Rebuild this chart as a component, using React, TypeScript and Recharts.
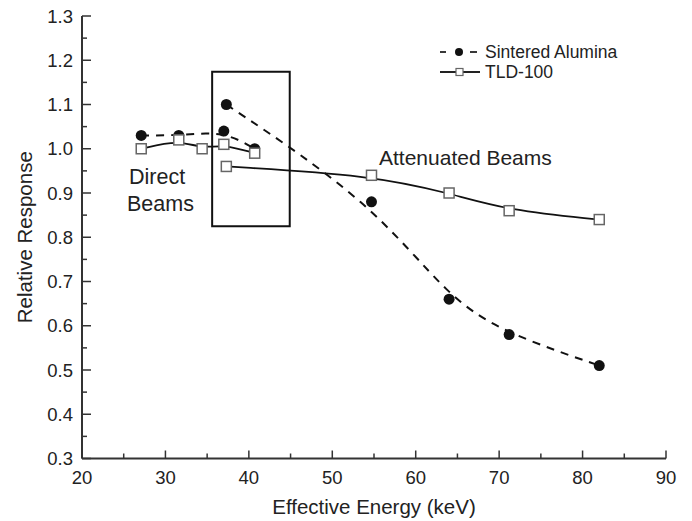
import { LineChart, Line, XAxis, YAxis, ReferenceArea } from 'recharts';

// Sintered Alumina (dashed, filled circles)
const saDirectEnergy = [27.1, 31.6, 37.0, 40.7];
const saDirectResp = [1.03, 1.03, 1.04, 1.0];
const saAttenEnergy = [37.3, 54.7, 64.0, 71.2, 82.0];
const saAttenResp = [1.1, 0.88, 0.66, 0.58, 0.51];

// TLD-100 (solid, open squares)
const tldDirectEnergy = [27.1, 31.6, 34.4, 37.0, 40.7];
const tldDirectResp = [1.0, 1.02, 1.0, 1.01, 0.99];
const tldAttenEnergy = [37.3, 54.7, 64.0, 71.2, 82.0];
const tldAttenResp = [0.96, 0.94, 0.9, 0.86, 0.84];

const xTicks = [20, 25, 30, 35, 40, 45, 50, 55, 60, 65, 70, 75, 80, 85, 90];
const yTicks = [0.3, 0.35, 0.4, 0.45, 0.5, 0.55, 0.6, 0.65, 0.7, 0.75, 0.8, 0.85, 0.9, 0.95, 1.0, 1.05, 1.1, 1.15, 1.2, 1.25, 1.3];

const toRows = (xs: number[], ys: number[]) => xs.map((e, i) => ({ e, r: ys[i] }));

const saDirect = toRows(saDirectEnergy, saDirectResp);
const saAtten = toRows(saAttenEnergy, saAttenResp);
const tldDirect = toRows(tldDirectEnergy, tldDirectResp);
const tldAtten = toRows(tldAttenEnergy, tldAttenResp);

const FONT = '"Liberation Sans", Arial, sans-serif';
const INK = '#222';
const AXIS = '#333';

const isMajorX = (v: number) => v % 10 === 0;
const isMajorY = (v: number) => Math.round(v * 100) % 10 === 0;

const BottomTick = ({ x, y, payload }: any) => {
    const major = isMajorX(payload.value);
    return (
        <g>
            <line x1={x} x2={x} y1={y} y2={y - (major ? 8 : 5)} stroke={AXIS} strokeWidth={1.5} />
            {major && (
                <text x={x} y={y + 25} textAnchor="middle" fontSize={18.5} fill={INK} fontFamily={FONT}>
                    {payload.value}
                </text>
            )}
        </g>
    );
};

const TopTick = ({ x, y, payload }: any) => {
    const major = isMajorX(payload.value);
    return <line x1={x} x2={x} y1={y} y2={y + (major ? 8 : 5)} stroke={AXIS} strokeWidth={1.5} />;
};

const LeftTick = ({ x, y, payload }: any) => {
    const major = isMajorY(payload.value);
    return (
        <g>
            <line x1={x} x2={x + (major ? 9 : 5)} y1={y} y2={y} stroke={AXIS} strokeWidth={1.5} />
            {major && (
                <text x={x - 9} y={y + 6.5} textAnchor="end" fontSize={18.5} fill={INK} fontFamily={FONT}>
                    {payload.value.toFixed(1)}
                </text>
            )}
        </g>
    );
};

const RightTick = ({ x, y, payload }: any) => {
    const major = isMajorY(payload.value);
    return <line x1={x} x2={x - (major ? 9 : 5)} y1={y} y2={y} stroke={AXIS} strokeWidth={1.5} />;
};

const SquareDot = ({ cx, cy }: any) => (
    <rect x={cx - 5} y={cy - 5} width={10} height={10} fill="#fff" stroke="#666" strokeWidth={1.5} />
);

const CircleDot = ({ cx, cy }: any) => <circle cx={cx} cy={cy} r={5.5} fill="#111" />;

const LegendBox = () => (
    <div
        style={{
            position: 'absolute',
            left: 436,
            top: 42,
            fontFamily: FONT,
            fontSize: 17.5,
            color: INK,
            lineHeight: '20px',
        }}
    >
        <div style={{ display: 'flex', alignItems: 'center' }}>
            <svg width={44} height={20}>
                <line x1={4} x2={10} y1={10} y2={10} stroke={INK} strokeWidth={1.8} />
                <circle cx={23} cy={10} r={4} fill="#111" />
                <line x1={34} x2={41} y1={10} y2={10} stroke={INK} strokeWidth={1.8} />
            </svg>
            <span style={{ marginLeft: 5 }}>Sintered Alumina</span>
        </div>
        <div style={{ display: 'flex', alignItems: 'center' }}>
            <svg width={44} height={20}>
                <line x1={4} x2={44} y1={10} y2={10} stroke={INK} strokeWidth={1.8} />
                <rect x={20} y={6.5} width={7} height={7} fill="#fff" stroke="#666" strokeWidth={1.2} />
            </svg>
            <span style={{ marginLeft: 5 }}>TLD-100</span>
        </div>
    </div>
);

export default function App() {
    return (
        <div style={{ position: 'absolute', left: 0, top: 0, width: 692, height: 521, background: '#fff' }}>
            <LineChart width={692} height={521} margin={{ top: 16, right: 26, bottom: 0, left: 0 }}>
                <XAxis
                    xAxisId="bottom"
                    dataKey="e"
                    type="number"
                    domain={[20, 90]}
                    ticks={xTicks}
                    interval={0}
                    height={62.5}
                    tickSize={0}
                    tickMargin={0}
                    tickLine={false}
                    tick={<BottomTick />}
                    axisLine={{ stroke: AXIS, strokeWidth: 2 }}
                />
                <XAxis
                    xAxisId="top"
                    orientation="top"
                    dataKey="e"
                    type="number"
                    domain={[20, 90]}
                    ticks={xTicks}
                    interval={0}
                    height={0}
                    tickSize={0}
                    tickMargin={0}
                    tickLine={false}
                    tick={<TopTick />}
                    axisLine={{ stroke: AXIS, strokeWidth: 2 }}
                />
                <YAxis
                    yAxisId="left"
                    type="number"
                    domain={[0.3, 1.3]}
                    ticks={yTicks}
                    interval={0}
                    width={82}
                    tickSize={0}
                    tickMargin={0}
                    tickLine={false}
                    tick={<LeftTick />}
                    axisLine={{ stroke: AXIS, strokeWidth: 2 }}
                    label={{
                        value: 'Relative Response',
                        angle: -90,
                        position: 'insideLeft',
                        offset: 0,
                        dx: 25,
                        style: { fontFamily: FONT, fontSize: 20.5, fill: INK, textAnchor: 'middle' },
                    }}
                />
                <YAxis
                    yAxisId="right"
                    orientation="right"
                    type="number"
                    domain={[0.3, 1.3]}
                    ticks={yTicks}
                    interval={0}
                    width={0}
                    tickSize={0}
                    tickMargin={0}
                    tickLine={false}
                    tick={<RightTick />}
                    axisLine={{ stroke: AXIS, strokeWidth: 2 }}
                />
                <ReferenceArea
                    xAxisId="bottom"
                    yAxisId="left"
                    x1={35.6}
                    x2={44.9}
                    y1={0.825}
                    y2={1.174}
                    fill="none"
                    stroke="#111"
                    strokeWidth={2}
                    ifOverflow="visible"
                />
                <Line
                    xAxisId="bottom"
                    yAxisId="left"
                    data={saDirect}
                    dataKey="r"
                    type="basis"
                    stroke="#111"
                    strokeWidth={2}
                    strokeDasharray="8 7"
                    dot={<CircleDot />}
                    isAnimationActive={false}
                />
                <Line
                    xAxisId="bottom"
                    yAxisId="left"
                    data={saAtten}
                    dataKey="r"
                    type="basis"
                    stroke="#111"
                    strokeWidth={2}
                    strokeDasharray="8 7"
                    dot={<CircleDot />}
                    isAnimationActive={false}
                />
                <Line
                    xAxisId="bottom"
                    yAxisId="left"
                    data={tldDirect}
                    dataKey="r"
                    type="basis"
                    stroke="#111"
                    strokeWidth={1.8}
                    dot={<SquareDot />}
                    isAnimationActive={false}
                />
                <Line
                    xAxisId="bottom"
                    yAxisId="left"
                    data={tldAtten}
                    dataKey="r"
                    type="basis"
                    stroke="#111"
                    strokeWidth={1.8}
                    dot={<SquareDot />}
                    isAnimationActive={false}
                />
                <text x={374} y={514} textAnchor="middle" fontSize={20.5} fill={INK} fontFamily={FONT}>
                    Effective Energy (keV)
                </text>
                <text x={129} y={184} fontSize={21.5} fill={INK} fontFamily={FONT}>Direct</text>
                <text x={127} y={211} fontSize={21.5} fill={INK} fontFamily={FONT}>Beams</text>
                <text x={379} y={165} fontSize={21} fill={INK} fontFamily={FONT}>Attenuated Beams</text>
            </LineChart>
            <LegendBox />
        </div>
    );
}
